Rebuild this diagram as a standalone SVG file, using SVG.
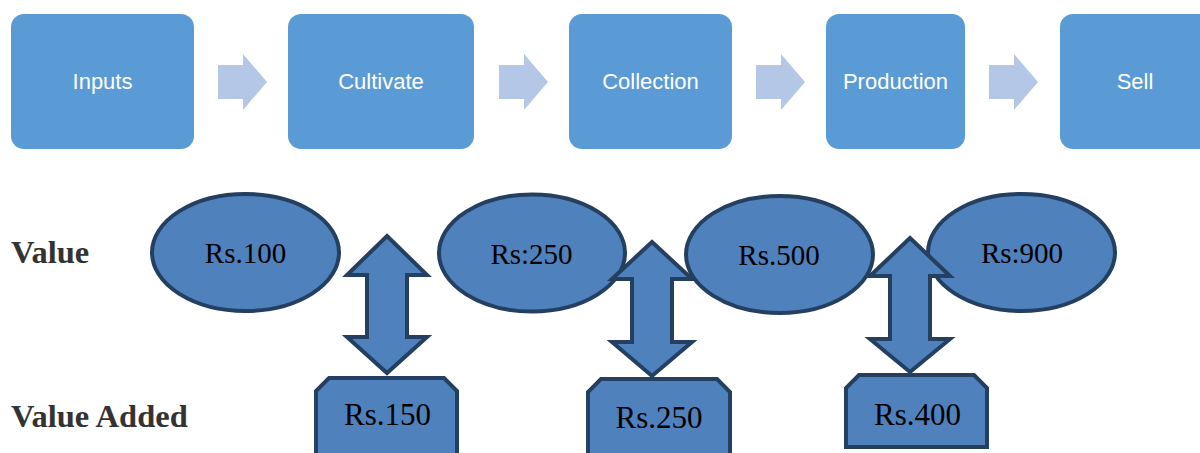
<svg xmlns="http://www.w3.org/2000/svg" width="1200" height="453" viewBox="0 0 1200 453">
<style>
.step{fill:#5b9bd5}
.steptxt{font-family:"Liberation Sans",Arial,sans-serif;font-size:22px;fill:#ffffff;text-anchor:middle}
.flow{fill:#b4c7e7}
.val{fill:#4f81bd;stroke:#243f60;stroke-width:4}
.valtxt{font-family:"Liberation Serif","Times New Roman",serif;font-size:29px;fill:#000;text-anchor:middle}
.boxtxt{font-family:"Liberation Serif","Times New Roman",serif;font-size:31px;fill:#000;text-anchor:middle}
.lbl{font-family:"Liberation Serif","Times New Roman",serif;font-size:32.5px;font-weight:bold;fill:#333333}
.dbl{fill:#4f81bd;stroke:#243f60;stroke-width:4;stroke-linejoin:miter}
</style>
<rect width="1200" height="453" fill="#ffffff"/>

<g id="inputs"><rect class="step" x="11" y="14" width="183" height="135" rx="13"/><text class="steptxt" x="102.5" y="89">Inputs</text></g>
<g id="cultivate"><rect class="step" x="288" y="14" width="186" height="135" rx="13"/><text class="steptxt" x="381" y="89">Cultivate</text></g>
<g id="collection"><rect class="step" x="569" y="14" width="163" height="135" rx="13"/><text class="steptxt" x="650.5" y="89">Collection</text></g>
<g id="production"><rect class="step" x="826" y="14" width="139" height="135" rx="13"/><text class="steptxt" x="895.5" y="89">Production</text></g>
<g id="sell"><rect class="step" x="1060" y="14" width="152" height="135" rx="13"/><text class="steptxt" x="1135" y="89">Sell</text></g>

<g id="connectors">
<polygon class="flow" points="218,65 243,65 243,54 267,82 243,110 243,99 218,99"/>
<polygon class="flow" points="499,65 524,65 524,54 548,82 524,110 524,99 499,99"/>
<polygon class="flow" points="756,65 781,65 781,54 805,82 781,110 781,99 756,99"/>
<polygon class="flow" points="989,65 1014,65 1014,54 1038,82 1014,110 1014,99 989,99"/>
</g>

<g id="label-value"><text class="lbl" x="11" y="263">Value</text></g>
<g id="label-value-added"><text class="lbl" x="11" y="427">Value Added</text></g>

<g id="v100"><ellipse class="val" cx="245.5" cy="252.5" rx="93.5" ry="58.5"/><text class="valtxt" x="245.5" y="263">Rs.100</text></g>
<g id="v250"><ellipse class="val" cx="532" cy="253" rx="93" ry="58.5"/><text class="valtxt" x="531.5" y="264">Rs:250</text></g>
<g id="v500"><ellipse class="val" cx="779.5" cy="254.5" rx="93.5" ry="58.5"/><text class="valtxt" x="779" y="265">Rs.500</text></g>
<g id="v900"><ellipse class="val" cx="1021.5" cy="252.5" rx="93.5" ry="58.5"/><text class="valtxt" x="1022" y="263">Rs:900</text></g>

<g id="a150"><polygon class="val" points="329,378 444,378 457,391 457,460 316,460 316,391"/><text class="boxtxt" x="387.5" y="425">Rs.150</text></g>
<g id="a250"><polygon class="val" points="601,379 717,379 730,392 730,460 588,460 588,392"/><text class="boxtxt" x="659" y="428">Rs.250</text></g>
<g id="a400"><polygon class="val" points="859,375 974,375 987,388 987,447 846,447 846,388"/><text class="boxtxt" x="917.5" y="425">Rs.400</text></g>

<g id="links">
<polygon class="dbl" points="387,236 427,275 407,275 407,337 427,337 387,373 347,337 367,337 367,275 347,275"/>
<polygon class="dbl" points="652,242 692,279 672,279 672,342 692,342 652,376 612,342 632,342 632,279 612,279"/>
<polygon class="dbl" points="910,238 950,276 930,276 930,339 950,339 910,372 870,339 890,339 890,276 870,276"/>
</g>
</svg>
